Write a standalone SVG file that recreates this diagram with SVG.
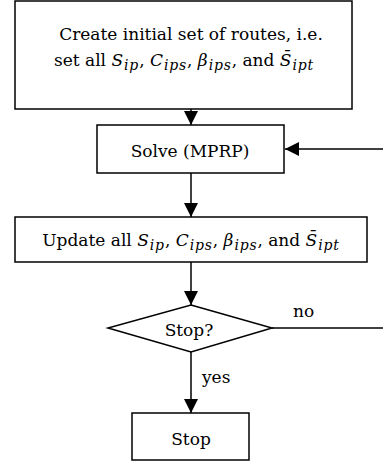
<svg xmlns="http://www.w3.org/2000/svg" width="383" height="466" viewBox="0 0 383 466">
  <style>
    .box { fill: #fff; stroke: #000; stroke-width: 1.5; }
    .line { fill: none; stroke: #000; stroke-width: 1.5; }
    .t { font-family: "DejaVu Serif", "Liberation Serif", serif; font-size: 17px; fill: #000; }
    .m { font-style: italic; letter-spacing: 1px; }
    .s { font-style: italic; font-size: 14px; letter-spacing: 0.8px; }
  </style>
  <defs>
    <marker id="arrow" viewBox="0 0 10 10" refX="10" refY="5" markerWidth="14" markerHeight="14" markerUnits="userSpaceOnUse" orient="auto">
      <path d="M0,0 L10,5 L0,10 Z" fill="#000"/>
    </marker>
  </defs>

  <g id="connectors">
    <line class="line" x1="191" y1="109" x2="191" y2="125" marker-end="url(#arrow)"/>
    <line class="line" x1="383" y1="149" x2="285" y2="149" marker-end="url(#arrow)"/>
    <line class="line" x1="191" y1="173" x2="191" y2="217" marker-end="url(#arrow)"/>
    <line class="line" x1="191" y1="262" x2="191" y2="305" marker-end="url(#arrow)"/>
    <line class="line" x1="272" y1="328" x2="383" y2="328"/>
    <line class="line" x1="191" y1="352" x2="191" y2="413" marker-end="url(#arrow)"/>
    <text class="t" x="293" y="317">no</text>
    <text class="t" x="202" y="383">yes</text>
  </g>

  <g id="init">
    <rect class="box" x="15" y="1" width="337" height="108"/>
    <text class="t" x="191" y="40" text-anchor="middle">Create initial set of routes, i.e.</text>
    <text class="t" x="184" y="66" text-anchor="middle">set all <tspan class="m">S</tspan><tspan class="s" dy="4">ip</tspan><tspan dy="-4">, </tspan><tspan class="m">C</tspan><tspan class="s" dy="4">ips</tspan><tspan dy="-4">, </tspan><tspan class="m">β</tspan><tspan class="s" dy="4">ips</tspan><tspan dy="-4">, and </tspan><tspan class="m">S̄</tspan><tspan class="s" dy="4">ipt</tspan></text>
  </g>

  <g id="solve">
    <rect class="box" x="97" y="125" width="187" height="48"/>
    <text class="t" x="190" y="157" text-anchor="middle">Solve (MPRP)</text>
  </g>

  <g id="update">
    <rect class="box" x="15" y="217" width="352" height="45"/>
    <text class="t" x="191" y="246" text-anchor="middle">Update all <tspan class="m">S</tspan><tspan class="s" dy="4">ip</tspan><tspan dy="-4">, </tspan><tspan class="m">C</tspan><tspan class="s" dy="4">ips</tspan><tspan dy="-4">, </tspan><tspan class="m">β</tspan><tspan class="s" dy="4">ips</tspan><tspan dy="-4">, and </tspan><tspan class="m">S̄</tspan><tspan class="s" dy="4">ipt</tspan></text>
  </g>

  <g id="decision">
    <polygon class="box" points="191,305 272,328 191,352 108,328"/>
    <text class="t" x="189" y="336" text-anchor="middle">Stop?</text>
  </g>

  <g id="stop">
    <rect class="box" x="132" y="413" width="117" height="47"/>
    <text class="t" x="191" y="445" text-anchor="middle">Stop</text>
  </g>
</svg>
